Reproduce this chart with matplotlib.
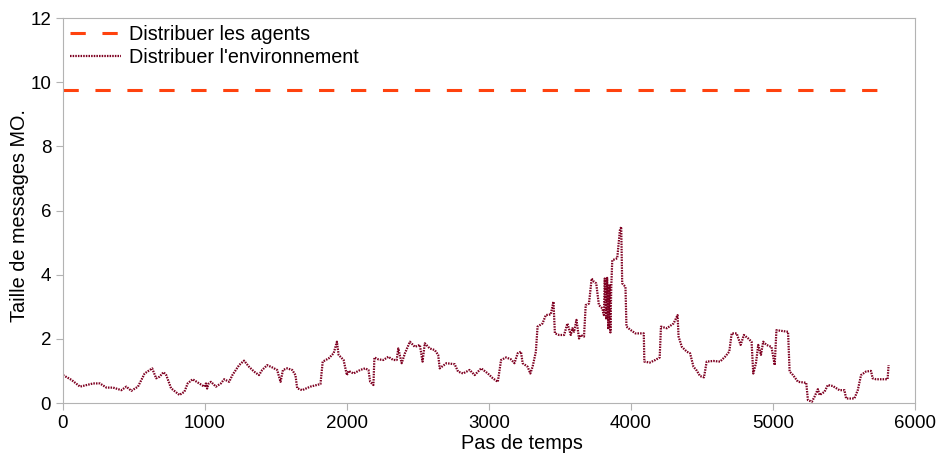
import matplotlib
matplotlib.use("Agg")
import matplotlib.pyplot as plt

# valeurs
env_x = [0, 60, 120, 213, 260, 306, 353, 411, 446, 481, 528, 575, 628, 656, 680,
         708, 727, 761, 820, 855, 878, 913, 960, 995, 1007, 1015, 1025, 1042, 1077,
         1112, 1135, 1170, 1193, 1240, 1275, 1310, 1345, 1380, 1403, 1438, 1473,
         1508, 1532, 1549, 1579, 1614, 1637, 1649, 1684, 1742, 1813, 1829, 1871,
         1906, 1929, 1941, 1976, 1999, 2011, 2046, 2093, 2128, 2151, 2163, 2186,
         2193, 2221, 2256, 2291, 2326, 2350, 2361, 2385, 2408, 2443, 2478, 2513,
         2532, 2548, 2583, 2618, 2642, 2653, 2700, 2758, 2782, 2817, 2864, 2899,
         2945, 2992, 3027, 3062, 3085, 3120, 3155, 3179, 3202, 3225, 3237, 3272,
         3291, 3307, 3330, 3342, 3377, 3400, 3435, 3454, 3464, 3494, 3529, 3552,
         3576, 3587, 3599, 3616, 3634, 3646, 3669, 3681, 3704, 3723, 3739, 3755,
         3774, 3798, 3809, 3815, 3825, 3832, 3840, 3848, 3855, 3861, 3868, 3903,
         3922, 3931, 3938, 3961, 3968, 3996, 4031, 4090, 4094, 4132, 4171, 4202,
         4211, 4253, 4300, 4328, 4335, 4358, 4393, 4416, 4440, 4463, 4486, 4514,
         4533, 4580, 4627, 4662, 4692, 4709, 4744, 4772, 4795, 4826, 4849, 4861,
         4880, 4896, 4915, 4931, 4954, 4989, 5012, 5024, 5059, 5106, 5117, 5141,
         5176, 5234, 5246, 5274, 5293, 5316, 5328, 5363, 5386, 5421, 5468, 5503,
         5515, 5573, 5597, 5620, 5655, 5690, 5702, 5725, 5807, 5814]
env_y = [0.87, 0.72, 0.51, 0.61, 0.61, 0.48, 0.48, 0.40, 0.51, 0.38, 0.51, 0.92,
         1.08, 0.77, 0.82, 0.96, 0.87, 0.46, 0.25, 0.35, 0.61, 0.74, 0.61, 0.51,
         0.61, 0.45, 0.60, 0.66, 0.51, 0.61, 0.74, 0.66, 0.87, 1.18, 1.32, 1.13,
         0.98, 0.87, 1.03, 1.18, 1.11, 1.03, 0.66, 1.03, 1.08, 1.03, 0.87, 0.46,
         0.40, 0.51, 0.59, 1.29, 1.39, 1.55, 1.91, 1.50, 1.34, 0.87, 1.00, 0.92,
         1.03, 1.08, 1.03, 0.66, 0.56, 1.42, 1.36, 1.34, 1.44, 1.34, 1.34, 1.70,
         1.24, 1.55, 1.91, 1.75, 1.81, 1.29, 1.86, 1.70, 1.65, 1.50, 1.08, 1.24,
         1.21, 0.98, 0.92, 1.03, 0.87, 1.08, 0.92, 0.77, 0.66, 1.34, 1.42, 1.36,
         1.24, 1.55, 1.60, 1.24, 1.13, 0.92, 1.13, 1.60, 2.38, 2.48, 2.74, 2.76,
         3.16, 2.17, 2.12, 2.12, 2.48, 2.12, 2.33, 2.22, 2.59, 2.01, 2.12, 2.07,
         3.05, 3.10, 3.88, 3.78, 3.73, 3.05, 2.95, 2.74, 3.88, 2.60, 3.90, 2.30,
         3.70, 2.20, 3.62, 4.45, 4.51, 5.39, 5.49, 3.73, 3.62, 2.38, 2.28, 2.17,
         2.17, 1.29, 1.26, 1.34, 1.42, 2.38, 2.33, 2.48, 2.74, 2.07, 1.75, 1.60,
         1.55, 1.13, 1.01, 0.84, 0.80, 1.29, 1.31, 1.29, 1.44, 1.60, 2.17, 2.17,
         1.81, 2.12, 2.01, 1.91, 0.92, 1.24, 1.81, 1.50, 1.91, 1.81, 1.75, 1.18,
         2.27, 2.25, 2.22, 0.98, 0.87, 0.66, 0.63, 0.09, 0.04, 0.20, 0.43, 0.25,
         0.35, 0.56, 0.53, 0.40, 0.40, 0.14, 0.14, 0.40, 0.87, 0.98, 1.00, 0.77,
         0.74, 0.74, 1.18]
agents_level = 9.77

x_ticks = [0, 1000, 2000, 3000, 4000, 5000, 6000]
y_ticks = [0, 2, 4, 6, 8, 10, 12]

plt.rcParams['font.family'] = ['Liberation Sans', 'DejaVu Sans']
plt.rcParams['lines.scale_dashes'] = False

fig = plt.figure(figsize=(9.42, 4.58), dpi=100)
ax = fig.add_axes([63 / 942, 1 - 403 / 458, (915 - 63) / 942, (403 - 18) / 458])

grey = '#b3b3b3'
ax.plot([env_x[0], env_x[-1]], [agents_level, agents_level], color='#ff420e',
        lw=2.2, dashes=(11, 12), label='Distribuer les agents')
ax.plot(env_x, env_y, color='#7e0021', lw=1.6, dashes=(1.1, 0.8),
        label="Distribuer l'environnement")

ax.set_xlim(0, 6000)
ax.set_ylim(0, 12)
ax.set_xticks(x_ticks)
ax.set_yticks(y_ticks)
for s in ax.spines.values():
    s.set_color(grey)
ax.tick_params(colors=grey, labelcolor='black', labelsize=13.5, length=5, direction='out')
ax.set_xlabel('Pas de temps', fontsize=14.3)
ax.xaxis.set_label_coords(0.539, -0.104, transform=ax.transAxes)
ax.xaxis.label.set_va('center')
ax.set_ylabel('Taille de messages MO.', fontsize=14.3)
ax.yaxis.set_label_coords(-0.0505, 0.488, transform=ax.transAxes)
ax.yaxis.label.set_va('center')

ax.legend(loc='upper left', frameon=False, fontsize=14.2, handlelength=2.6,
          handletextpad=0.4, borderaxespad=0.0, borderpad=0.35, labelspacing=0.2,
          bbox_to_anchor=(0.0, 1.0))

fig.savefig('out.png', dpi=100)
